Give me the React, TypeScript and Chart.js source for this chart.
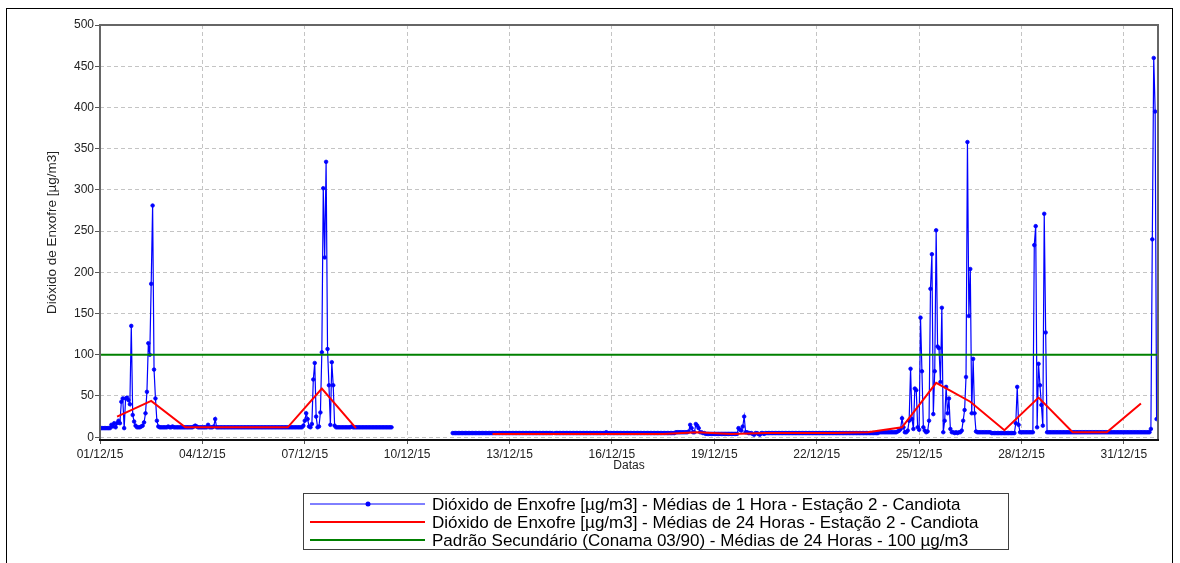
import React, { useEffect, useRef } from "react";
import { Chart, registerables } from "chart.js";

Chart.register(...registerables);

// ---- Hourly SO2 values (µg/m3), one array per day of December 2015 (24 hours each) ----
const d01 = [11, 11, 11, 11, 11, 11, 11, 11, 15, 13, 17, 12, 17, 20, 17, 43, 47, 11, 47, 48, 45, 40, 135, 27];
const d02 = [19, 14, 12, 12, 12, 13, 14, 18, 29, 55, 114, 100, 186, 281, 82, 47, 20, 13, 12, 12, 12, 12, 12, 12];
const d03 = [13, 12, 12, 13, 12, 12, 12, 12, 12, 12, 12, 12, 12, 12, 12, 12, 12, 12, 13, 14, 13, 12, 12, 12];
const d04 = [12, 12, 12, 12, 15, 12, 12, 12, 13, 22, 12, 12, 12, 12, 12, 12, 12, 12, 12, 12, 12, 12, 12, 12];
const d05 = [12, 12, 12, 12, 12, 12, 12, 12, 12, 12, 12, 12, 12, 12, 12, 12, 12, 12, 12, 12, 12, 12, 12, 12];
const d06 = [12, 12, 12, 12, 12, 12, 12, 12, 12, 12, 12, 12, 12, 12, 12, 12, 12, 12, 12, 12, 12, 12, 12, 14];
const d07 = [20, 29, 22, 13, 12, 16, 70, 90, 25, 12, 13, 30, 103, 302, 218, 334, 107, 63, 15, 91, 63, 14, 12, 12];
const d08 = [12, 12, 12, 12, 12, 12, 12, 12, 12, 13, 12, 12, 12, 12, 12, 12, 12, 12, 12, 12, 12, 12, 12, 12];
const d09 = [12, 12, 12, 12, 12, 12, 12, 12, 12, 12, 12, 12, 12, 12, null, null, null, null, null, null, null, null, null, null];
const d10 = [null, null, null, null, null, null, null, null, null, null, null, null, null, null, null, null, null, null, null, null, null, null, null, null];
const d11 = [null, null, null, null, null, null, null, null, 5, 5, 5, 5, 5, 5, 5, 5, 5, 5, 5, 5, 5, 5, 5, 5];
const d12 = [5, 5, 5, 5, 5, 5, 5, 5, 5, 5, 5, 5, 5, 5, 5, 5, 5, 5, 5, 5, 5, 5, 5, 5];
const d13 = [5, 5, 5, 5, 5, 5, 5, 5, 5, 5, 5, 5, 5, 5, 5, 5, 5, 5, 5, 5, 5, 5, 5, 5];
const d14 = [5, 5, 5, 5, 5, 5, 5, null, 5, 5, 5, 5, 5, 5, 5, 5, 5, 5, 5, 5, 5, 5, 5, 5];
const d15 = [5, 5, 5, 5, 5, 5, 5, 5, 5, 5, 5, 5, 5, 5, 5, 5, 5, 5, 5, 5, 6, 5, 5, 5];
const d16 = [5, 5, 5, 5, 5, 5, 5, 5, 5, 5, 5, 5, 5, 5, 5, 5, 5, 5, 5, 5, 5, 5, 5, 5];
const d17 = [5, 5, 5, 5, 5, 5, 5, 5, 5, 5, 5, 5, 5, 5, 5, 5, 5, 5, 5, 5, 5, 6, 6, 6];
const d18 = [6, 6, 6, 6, 6, 6, 7, 15, 11, 6, 6, 16, 14, 11, 6, 6, 5, 5, 4, 4, 4, 4, 4, 4];
const d19 = [4, 4, 4, 4, 4, 4, 4, 4, 4, 4, 4, 4, 4, 4, 4, 4, 4, 11, 9, 8, 13, 25, 6, 6];
const d20 = [5, 5, 5, 4, 3, 5, 5, 4, 3, 5, 5, 4, 5, 5, 5, 5, 5, 5, 5, 5, 5, 5, 5, 5];
const d21 = [5, 5, 5, 5, 5, 5, 5, 5, 5, 5, 5, 5, 5, 5, 5, 5, 5, 5, 5, 5, 5, 5, 5, 5];
const d22 = [5, 5, 5, 5, 5, 5, 5, 5, 5, 5, 5, 5, 5, 5, 5, 5, 5, 5, 5, 5, 5, 5, 5, 5];
const d23 = [5, 5, 5, 5, 5, 5, 5, 5, 5, 5, 5, 5, 5, 5, 5, 5, 5, 5, 5, 5, 6, 6, 6, 6];
const d24 = [6, 6, 6, 6, 6, 6, 6, 6, 6, 7, 8, 10, 23, 12, 6, 6, 8, 20, 83, 22, 10, 59, 57, 12];
const d25 = [9, 145, 80, 12, 8, 6, 7, 20, 180, 222, 28, 80, 251, 110, 108, 67, 157, 6, 20, 61, 29, 47, 10, 6];
const d26 = [6, 5, 6, 5, 6, 6, 8, 20, 33, 73, 358, 147, 204, 29, 95, 29, 7, 6, 6, 6, 6, 6, 6, 6];
const d27 = [6, 6, 6, 5, 5, 5, 5, 5, 5, 5, 5, 5, 5, 5, 5, 5, 5, 5, 5, 5, 17, 61, 15, 6];
const d28 = [6, 6, 6, 6, 6, 6, 6, 6, 6, 233, 256, 12, 89, 63, 39, 14, 271, 127, 6, 6, 6, 6, 6, 6];
const d29 = [6, 6, 6, 6, 6, 6, 6, 6, 6, 6, 6, 6, 6, 6, 6, 6, 6, 6, 6, 6, 6, 6, 6, 6];
const d30 = [6, 6, 6, 6, 6, 6, 6, 6, 6, 6, 6, 6, 6, 6, 6, 6, 6, 6, 6, 6, 6, 6, 6, 6];
const d31 = [6, 6, 6, 6, 6, 6, 6, 6, 6, 6, 6, 6, 6, 6, 6, 6, 6, 6, 6, 10, 240, 460, 395, 22];

const hourlyDays = [d01, d02, d03, d04, d05, d06, d07, d08, d09, d10, d11, d12, d13, d14, d15, d16,
  d17, d18, d19, d20, d21, d22, d23, d24, d25, d26, d27, d28, d29, d30, d31];

// ---- 24-hour averages (one per day, plotted at noon) ----
const daily24h = [25, 44, 12, 12, 12, 12, 59, 11, null, null, null, 4, 4, 4, 4, 4, 4, 6, 4, 5, 5, 5, 6, 12, 66, 43, 8.5, 48, 6, 6, 41];

// ---- Standard ----
const standardValue = 100;

// ---- Axis ----
const xTickDays = [1, 4, 7, 10, 13, 16, 19, 22, 25, 28, 31];
const yTicks = [0, 50, 100, 150, 200, 250, 300, 350, 400, 450, 500];

const legendLabels = [
  "Dióxido de Enxofre [µg/m3] - Médias de 1 Hora - Estação 2 - Candiota",
  "Dióxido de Enxofre [µg/m3] - Médias de 24 Horas - Estação 2 - Candiota",
  "Padrão Secundário (Conama 03/90) - Médias de 24 Horas - 100 µg/m3",
];

const FONT = "'Liberation Sans', Arial, sans-serif";
const BLUE = "#0000ff";
const RED = "#ff0000";
const GREEN = "#008000";

const pad2 = (n: number) => (n < 10 ? "0" + n : "" + n);

const framePlugin = {
  id: "frameAndLegend",
  afterDraw(chart: any) {
    const { ctx, chartArea } = chart;
    const { left, top, right, bottom } = chartArea;
    ctx.save();
    // plot frame
    ctx.lineWidth = 2;
    ctx.strokeStyle = "#666666";
    ctx.beginPath();
    ctx.moveTo(left, bottom);
    ctx.lineTo(left, top);
    ctx.lineTo(right, top);
    ctx.lineTo(right, bottom);
    ctx.stroke();
    ctx.strokeStyle = "#111111";
    ctx.beginPath();
    ctx.moveTo(left - 1, bottom);
    ctx.lineTo(right + 1, bottom);
    ctx.stroke();

    // outer frame
    ctx.lineWidth = 1;
    ctx.strokeStyle = "#000000";
    ctx.strokeRect(6.5, 8.5, 1166, 700);

    // legend
    const bx = 303.5, by = 493.5, bw = 705, bh = 56;
    ctx.strokeStyle = "#404040";
    ctx.strokeRect(bx, by, bw, bh);
    const rows = [504, 522, 540];
    const colors = [BLUE, RED, GREEN];
    const widths = [1, 2, 2];
    ctx.font = "17px " + FONT;
    ctx.textBaseline = "middle";
    ctx.textAlign = "left";
    rows.forEach((ry, i) => {
      ctx.strokeStyle = colors[i];
      ctx.lineWidth = widths[i];
      ctx.beginPath();
      ctx.moveTo(310, ry);
      ctx.lineTo(425, ry);
      ctx.stroke();
      if (i === 0) {
        ctx.fillStyle = BLUE;
        ctx.beginPath();
        ctx.arc(368, ry, 2.5, 0, Math.PI * 2);
        ctx.fill();
      }
      ctx.fillStyle = "#000000";
      ctx.fillText(legendLabels[i], 432, ry + 1);
    });
    ctx.restore();
  },
};

export default function App() {
  const canvasRef = useRef<HTMLCanvasElement | null>(null);

  useEffect(() => {
    const canvas = canvasRef.current;
    if (!canvas) return;

    const hourlyPoints: { x: number; y: number | null }[] = [];
    hourlyDays.forEach((day, di) => {
      day.forEach((v, hi) => {
        hourlyPoints.push({ x: di * 24 + hi, y: v });
      });
    });
    const dailyPoints = daily24h.map((v, i) => ({ x: i * 24 + 12, y: v }));
    const standardPoints = [
      { x: 0, y: standardValue },
      { x: 744, y: standardValue },
    ];

    const chart = new Chart(canvas, {
      type: "line",
      data: {
        datasets: [
          {
            label: legendLabels[2],
            data: standardPoints,
            borderColor: GREEN,
            borderWidth: 2,
            pointRadius: 0,
            order: 1,
          },
          {
            label: legendLabels[1],
            data: dailyPoints,
            borderColor: RED,
            borderWidth: 2,
            pointRadius: 0,
            spanGaps: false,
            order: 2,
          },
          {
            label: legendLabels[0],
            data: hourlyPoints,
            borderColor: BLUE,
            backgroundColor: BLUE,
            borderWidth: 1.2,
            pointRadius: 1.8,
            pointBorderWidth: 0.8,
            pointBackgroundColor: BLUE,
            pointBorderColor: BLUE,
            spanGaps: false,
            order: 3,
          },
        ] as any,
      },
      options: {
        responsive: false,
        maintainAspectRatio: false,
        devicePixelRatio: 1,
        animation: false,
        layout: { padding: { left: 0, top: 25, right: 22, bottom: 83 } },
        plugins: {
          legend: { display: false },
          tooltip: { enabled: false },
        },
        scales: {
          x: {
            type: "linear",
            min: 0,
            max: 744,
            afterBuildTicks: (axis: any) => {
              axis.ticks = xTickDays.map((d) => ({ value: (d - 1) * 24 }));
            },
            afterFit: (scale: any) => {
              scale.height = 40;
            },
            ticks: {
              autoSkip: false,
              maxRotation: 0,
              padding: 3,
              color: "#222222",
              font: { family: FONT, size: 12 },
              callback: (v: any) => pad2(Math.round(Number(v) / 24) + 1) + "/12/15",
            },
            grid: {
              color: "#c4c4c4",
              lineWidth: 1,
              tickColor: "#555555",
              tickLength: 4,
            },
            border: { display: false, dash: [4, 3] },
            title: {
              display: true,
              text: "Datas",
              color: "#222222",
              font: { family: FONT, size: 12 },
              padding: { top: 0, bottom: 6.8 },
            },
          },
          y: {
            type: "linear",
            min: -3.4,
            max: 500,
            afterBuildTicks: (axis: any) => {
              axis.ticks = yTicks.map((v) => ({ value: v }));
            },
            afterFit: (scale: any) => {
              scale.width = 100;
            },
            ticks: {
              padding: 1,
              color: "#222222",
              font: { family: FONT, size: 12 },
            },
            grid: {
              color: "#c4c4c4",
              lineWidth: 1,
              tickColor: "#555555",
              tickLength: 5,
            },
            border: { display: false, dash: [4, 3] },
            title: {
              display: true,
              text: "Dióxido de Enxofre [µg/m3]",
              color: "#222222",
              font: { family: FONT, size: 13.5 },
              padding: { top: 43.9, bottom: 0 },
            },
          },
        },
      } as any,
      plugins: [framePlugin],
    });

    return () => chart.destroy();
  }, []);

  return (
    <div style={{ position: "absolute", left: 0, top: 0, width: 1180, height: 563, background: "#ffffff" }}>
      <canvas ref={canvasRef} width={1180} height={563} style={{ display: "block", width: 1180, height: 563 }} />
    </div>
  );
}
